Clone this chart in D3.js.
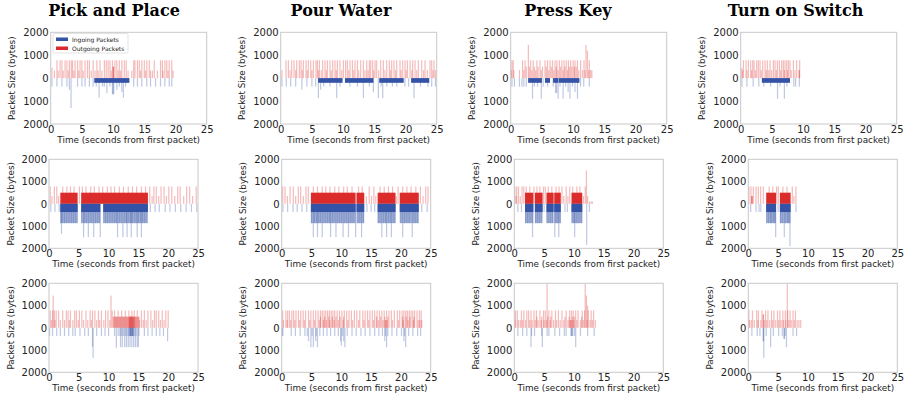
<!DOCTYPE html>
<html>
<head>
<meta charset="utf-8">
<script src="https://cdn.jsdelivr.net/npm/d3@7"></script>
<style>
  body { margin: 0; background: #fff; }
  svg { display: block; font-family: "DejaVu Sans", sans-serif; }
</style>
</head>
<body>
<svg id="chart" width="908" height="398"></svg>
<script>
// ---- data: [seconds, bytes] per packet ----
// bursts: [start, end, bytes of the solid block, bytes reached by the dense fringe]
// row A
const pickAOut = [[0.2,450],[0.6,330],[1.0,780],[1.2,330],[1.5,780],[1.8,780],[2.0,330],[2.3,780],[2.6,780],[2.8,330],[3.0,780],[3.3,780],[3.5,780],[3.7,330],[3.9,780],[4.3,780],[4.5,330],[4.7,780],[5.0,780],[5.2,330],[5.5,780],[5.9,780],[6.2,780],[6.5,330],[6.8,780],[7.1,330],[7.4,780],[7.6,330],[7.9,780],[8.2,330],[8.6,780],[8.9,780],[9.2,780],[9.5,780],[9.7,330],[9.9,780],[10.0,500],[10.05,500],[10.1,500],[10.3,780],[10.6,780],[10.8,330],[11.0,780],[11.2,330],[11.4,780],[11.8,780],[12.1,780],[12.4,330],[13.0,330],[13.3,780],[13.5,780],[13.9,780],[14.2,780],[14.4,330],[14.6,780],[15.0,780],[15.2,330],[15.4,780],[15.8,780],[16.0,330],[16.3,330],[16.6,780],[17.1,330],[17.6,780],[17.9,780],[18.0,330],[18.3,780],[18.6,780],[18.8,330],[19.0,780],[19.4,780],[19.6,330]];
const pickAIn = [[0.2,370],[1.0,370],[1.8,370],[2.6,370],[3.0,500],[3.26,1300],[4.3,370],[5.0,370],[5.5,370],[6.2,370],[6.8,370],[7.3,370],[7.75,850],[8.3,370],[8.6,370],[9.0,650],[9.5,370],[9.9,700],[10.0,700],[10.1,700],[10.6,500],[11.0,370],[11.4,600],[11.65,850],[12.0,370],[13.3,370],[13.9,370],[14.6,370],[15.4,370],[16.0,370],[16.8,370],[17.6,370],[18.3,370],[19.0,370],[19.4,370]];
const pickAOutBurst = [];
const pickAInBurst = [[7.0,12.6,200,200]];

const pourAOut = [[0.2,350],[0.85,780],[1.23,780],[1.5,350],[1.76,780],[2.14,780],[2.4,350],[2.56,780],[2.99,780],[3.26,780],[3.45,350],[3.63,780],[4.06,780],[4.25,350],[4.43,780],[4.81,780],[5.0,350],[5.24,780],[5.66,780],[5.88,780],[6.05,350],[6.2,780],[6.5,350],[6.73,780],[7.1,780],[7.3,350],[7.48,780],[7.9,780],[8.1,350],[8.33,780],[8.7,780],[8.9,350],[9.08,780],[9.5,780],[9.8,350],[10.04,780],[10.4,780],[10.68,780],[10.9,350],[11.11,780],[11.49,780],[11.7,350],[11.91,780],[12.29,780],[12.5,350],[12.82,780],[13.25,780],[13.5,350],[13.78,780],[14.0,350],[14.21,780],[14.42,780],[14.74,780],[14.9,350],[15.12,780],[15.38,780],[15.7,350],[16.03,780],[16.45,780],[16.7,350],[16.99,780],[17.41,780],[17.6,350],[17.79,780],[18.16,780],[18.4,350],[18.59,780],[19.12,780],[19.3,350],[19.55,780],[19.93,780],[20.1,350],[20.3,780],[20.73,780],[21.0,350],[21.15,780],[21.53,780],[21.8,350],[22.06,780],[22.6,780],[22.9,350],[23.13,780],[23.5,350],[23.93,780],[24.2,780],[24.4,350],[24.57,780],[24.8,350]];
const pourAIn = [[0.2,370],[0.9,370],[1.6,370],[2.4,370],[3.4,500],[4.2,370],[5.0,370],[5.6,370],[6.04,870],[6.4,500],[6.9,370],[7.9,370],[8.97,870],[9.5,370],[11.1,370],[12.3,370],[13.25,870],[14.2,370],[14.85,620],[15.65,870],[16.1,370],[16.35,870],[17.0,370],[17.9,370],[18.6,370],[19.9,370],[20.5,370],[21.37,870],[22.4,370],[23.6,370],[24.2,370],[24.8,370]];
const pourAOutBurst = [];
const pourAInBurst = [[6.0,9.9,200,200],[10.3,14.85,200,200],[15.8,19.7,200,200],[20.9,23.8,200,200]];

const pressAOut = [[0.1,350],[0.2,780],[0.4,780],[0.5,350],[1.4,350],[1.9,780],[2.1,350],[2.3,780],[2.5,500],[2.83,1450],[3.0,500],[3.2,780],[3.4,350],[3.6,780],[3.8,500],[4.0,350],[4.2,780],[4.4,500],[4.7,780],[4.9,350],[5.1,500],[5.5,780],[5.7,500],[5.9,780],[6.1,350],[6.3,780],[6.5,500],[6.7,780],[6.9,350],[7.1,780],[7.3,500],[7.4,780],[7.6,350],[7.8,780],[8.0,500],[8.2,780],[8.4,350],[8.55,780],[8.7,500],[8.9,780],[9.1,350],[9.25,780],[9.4,500],[9.6,780],[9.8,500],[10.0,780],[10.2,500],[10.3,780],[10.5,500],[10.7,780],[10.9,350],[11.2,780],[11.5,350],[11.75,780],[11.9,350],[12.07,1450],[12.3,1200],[12.5,350],[12.6,780],[12.8,350],[13.0,350]];
const pressAIn = [[0.2,370],[0.6,370],[1.4,370],[1.8,370],[2.1,370],[2.5,370],[3.5,900],[3.8,370],[4.3,370],[4.9,900],[5.2,370],[5.9,370],[6.8,370],[7.2,650],[7.35,650],[7.6,900],[7.9,370],[8.4,900],[8.8,370],[9.2,600],[9.5,900],[9.9,370],[10.3,600],[10.7,900],[11.2,370],[11.7,370],[12.6,370]];
const pressAOutBurst = [];
const pressAInBurst = [[2.8,5.0,200,200],[5.5,6.3,200,200],[6.8,7.6,200,200],[7.7,11.0,200,200]];

const switchAOut = [[0.16,450],[0.3,350],[0.43,780],[0.85,780],[1.0,350],[1.23,780],[1.6,780],[1.75,350],[1.92,780],[2.14,780],[2.35,350],[2.56,780],[2.83,780],[3.1,780],[3.3,350],[3.53,780],[3.9,780],[4.1,350],[4.27,780],[4.5,350],[4.7,780],[4.95,350],[5.24,780],[5.5,780],[5.7,350],[5.88,780],[6.2,780],[6.4,350],[6.57,780],[6.84,780],[7.0,350],[7.1,780],[7.37,780],[7.5,350],[7.64,780],[7.9,780],[8.1,350],[8.44,780],[8.7,350],[8.97,780],[9.35,350],[9.4,350],[9.45,780]];
const switchAIn = [[0.2,370],[1.0,370],[2.0,370],[2.9,370],[3.7,370],[4.8,370],[5.9,900],[6.3,370],[7.0,900],[7.4,370],[8.5,370],[8.8,370],[9.4,370]];
const switchAOutBurst = [];
const switchAInBurst = [[3.4,7.9,200,200]];

// row B
const pickBOut = [[0.2,780],[0.5,350],[0.9,780],[1.3,780],[1.6,350],[2.3,780],[3.0,780],[3.6,780],[4.2,780],[5.1,780],[5.6,780],[6.2,780],[7.0,780],[7.6,780],[8.4,780],[9.0,780],[9.8,780],[10.4,780],[11.0,780],[11.8,780],[12.5,780],[13.3,780],[14.0,780],[14.7,780],[15.5,780],[16.2,780],[16.9,780],[17.3,350],[17.6,780],[18.0,780],[18.4,350],[18.8,780],[19.3,780],[19.7,350],[20.1,780],[20.6,780],[21.1,350],[21.6,780],[22.0,780],[22.6,350],[23.1,780],[23.6,780],[24.1,350],[24.7,780]];
const pickBIn = [[0.3,370],[1.0,370],[1.7,370],[2.0,870],[2.1,1350],[2.3,870],[2.6,870],[2.9,870],[3.2,870],[3.5,870],[3.8,870],[4.1,870],[4.4,870],[4.7,870],[5.5,870],[5.8,1500],[6.0,870],[6.3,870],[6.6,1500],[6.9,870],[7.2,870],[7.5,1500],[7.8,870],[8.1,870],[8.4,870],[8.6,1500],[9.2,870],[9.5,870],[9.8,870],[10.1,870],[10.4,870],[10.7,870],[11.0,870],[11.3,870],[11.5,1500],[11.8,870],[12.1,870],[12.4,1500],[12.7,870],[13.0,870],[13.1,1500],[13.4,870],[13.7,870],[13.8,1500],[14.0,870],[14.3,870],[14.6,870],[14.8,1500],[15.0,870],[15.3,870],[15.5,1500],[15.7,870],[16.0,870],[16.3,870],[17.0,370],[17.8,370],[18.5,370],[19.5,370],[20.3,370],[21.2,370],[22.1,370],[23.0,370],[23.9,370],[24.8,370]];
const pickBOutBurst = [[1.9,4.8,500,500],[5.4,16.6,500,500]];
const pickBInBurst = [[1.9,4.8,370,870],[5.4,8.6,370,870],[9.1,16.6,370,870]];

const pourBOut = [[0.17,780],[0.56,780],[0.95,350],[1.4,780],[1.95,780],[2.34,350],[2.79,780],[3.18,780],[3.63,350],[4.07,780],[4.46,780],[5.3,780],[6.0,780],[6.8,780],[7.4,780],[8.1,780],[8.9,780],[9.6,780],[10.4,780],[11.0,780],[11.8,780],[12.9,780],[13.5,780],[14.2,350],[14.68,780],[15.07,350],[15.46,780],[15.79,350],[16.5,780],[17.2,780],[17.9,780],[18.6,780],[19.25,350],[19.53,780],[20.3,780],[21.0,780],[21.7,780],[22.5,780],[23.27,780],[23.72,350],[24.16,780],[24.55,780]];
const pourBIn = [[0.2,370],[1.0,370],[1.9,370],[2.6,370],[3.4,370],[4.2,370],[5.0,870],[5.3,1500],[5.5,870],[5.8,870],[6.0,1500],[6.2,870],[6.5,870],[6.8,1500],[7.1,870],[7.4,870],[7.7,870],[8.0,870],[8.2,1500],[8.5,870],[8.8,870],[9.1,1500],[9.4,870],[9.7,870],[10.0,870],[10.3,1500],[10.6,870],[10.9,870],[11.2,1500],[11.5,870],[11.8,870],[12.1,870],[12.4,1500],[12.8,870],[13.1,870],[13.4,1500],[13.7,870],[14.3,370],[15.0,370],[15.6,370],[16.2,870],[16.5,870],[16.8,1500],[17.1,870],[17.4,870],[17.6,1500],[17.9,870],[18.2,870],[18.4,1500],[18.7,870],[19.0,870],[20.0,870],[20.3,1500],[20.6,870],[20.9,870],[21.2,870],[21.5,870],[21.9,1500],[22.2,870],[22.5,870],[22.8,870],[23.5,370],[24.4,370]];
const pourBOutBurst = [[4.9,12.4,500,500],[12.55,13.85,500,500],[16.1,19.1,500,500],[19.8,23.0,500,500]];
const pourBInBurst = [[4.9,12.4,370,870],[12.55,13.85,370,870],[16.1,19.1,370,870],[19.8,23.0,370,870]];

const pressBOut = [[0.1,780],[0.3,350],[0.4,780],[0.7,780],[1.0,350],[1.3,780],[1.6,780],[2.0,780],[2.6,780],[3.3,780],[3.8,780],[4.3,780],[4.9,780],[5.2,780],[5.7,780],[6.3,780],[7.0,780],[7.5,780],[8.0,780],[8.3,350],[8.7,780],[9.0,350],[9.3,780],[9.8,780],[10.5,780],[11.0,780],[11.6,350],[11.9,780],[12.1,1500],[12.3,350],[12.6,100],[12.9,100],[13.1,100]];
const pressBIn = [[0.6,370],[1.2,370],[1.9,870],[2.2,870],[2.5,870],[2.8,870],[3.06,1500],[3.6,870],[3.9,870],[4.2,870],[4.5,870],[5.0,370],[5.5,870],[5.8,870],[6.1,870],[6.4,870],[6.8,1500],[7.0,870],[7.3,870],[7.46,1500],[7.7,870],[8.5,370],[8.9,370],[9.7,870],[10.0,870],[10.13,1500],[10.4,870],[10.7,870],[11.0,870],[11.3,870],[12.14,1850],[12.6,370]];
const pressBOutBurst = [[1.8,3.2,500,500],[3.45,4.75,500,500],[5.4,6.6,500,500],[6.7,7.8,500,500],[9.6,11.4,500,500]];
const pressBInBurst = [[1.8,3.2,370,870],[3.45,4.75,370,870],[5.4,6.6,370,870],[6.7,7.8,370,870],[9.6,11.4,370,870]];

const switchBOut = [[0.11,780],[0.45,780],[0.55,350],[0.6,350],[0.7,350],[0.84,780],[1.29,780],[1.68,780],[2.07,780],[2.52,780],[3.5,780],[4.1,780],[4.75,780],[5.03,780],[5.8,780],[6.5,780],[7.38,780],[7.66,350],[8.0,780]];
const switchBIn = [[0.4,370],[1.3,370],[1.8,370],[2.1,370],[3.1,870],[3.4,870],[3.7,870],[3.9,870],[4.2,870],[4.4,870],[4.59,1500],[5.0,370],[5.4,870],[5.7,870],[6.04,1500],[6.3,870],[6.6,870],[6.8,870],[6.99,1900],[8.0,370]];
const switchBOutBurst = [[3.0,4.65,500,500],[5.3,7.1,500,500]];
const switchBInBurst = [[3.0,4.65,370,870],[5.3,7.1,370,870]];

// row C
const pickCOut = [[0.2,780],[0.4,350],[0.6,780],[0.7,1450],[0.9,780],[1.0,350],[1.2,780],[1.6,780],[1.9,350],[2.3,780],[2.6,350],[2.9,780],[3.2,780],[3.4,350],[3.6,780],[4.0,350],[4.3,780],[4.6,780],[4.9,350],[5.1,780],[5.5,780],[5.8,350],[6.2,780],[6.5,350],[6.9,780],[7.1,350],[7.3,780],[7.7,780],[8.0,350],[8.3,780],[8.5,350],[8.8,780],[9.2,350],[9.5,780],[9.9,780],[10.2,350],[10.4,1450],[10.6,780],[10.8,500],[10.9,500],[11.0,780],[11.1,500],[11.2,500],[11.3,500],[11.4,500],[11.5,500],[11.6,780],[11.7,500],[11.8,500],[11.9,500],[12.0,500],[12.1,500],[12.2,780],[12.3,500],[12.4,500],[12.5,500],[12.6,500],[12.7,500],[12.8,780],[12.9,500],[13.0,500],[13.1,500],[13.2,500],[13.3,500],[13.4,780],[13.45,500],[13.5,500],[13.55,500],[13.6,500],[13.65,500],[13.7,500],[13.75,500],[13.8,500],[13.85,500],[13.9,780],[13.95,500],[14.0,500],[14.05,500],[14.1,500],[14.15,500],[14.2,500],[14.3,780],[14.35,500],[14.4,500],[14.5,500],[14.6,500],[14.7,500],[14.8,780],[14.9,500],[15.0,500],[15.1,500],[15.2,350],[15.5,780],[15.8,350],[16.0,780],[16.3,350],[16.6,780],[17.1,780],[17.4,350],[17.7,780],[18.0,780],[18.4,780],[18.7,350],[19.0,780],[19.3,350],[19.6,780],[20.0,780]];
const pickCIn = [[0.1,370],[0.6,370],[1.3,370],[1.9,370],[2.6,370],[3.3,370],[4.0,370],[4.4,370],[5.2,370],[6.0,370],[6.6,370],[7.3,850],[7.4,1350],[8.0,370],[8.8,370],[9.4,370],[10.0,370],[11.0,370],[11.3,900],[11.6,370],[11.9,370],[12.0,870],[12.2,370],[12.3,870],[12.5,370],[12.7,870],[12.8,370],[13.0,870],[13.1,370],[13.3,870],[13.4,370],[13.5,370],[13.6,870],[13.65,370],[13.7,370],[13.75,370],[13.8,370],[13.9,870],[13.95,370],[14.0,370],[14.05,370],[14.1,370],[14.2,870],[14.3,370],[14.5,870],[14.6,370],[14.8,870],[15.0,870],[15.1,370],[16.0,370],[16.6,370],[17.3,370],[18.0,370],[18.6,370],[19.2,370],[19.9,600]];
const pickCOutBurst = [];
const pickCInBurst = [];

const pourCOut = [[0.17,780],[0.7,780],[1.0,780],[1.3,780],[1.7,780],[2.0,780],[2.4,780],[2.8,780],[3.2,780],[3.6,780],[4.0,780],[4.5,780],[4.9,780],[5.3,780],[5.7,780],[6.1,780],[6.5,780],[6.8,780],[7.1,780],[7.4,780],[7.7,780],[8.0,780],[8.3,780],[8.6,780],[8.9,780],[9.3,780],[9.7,780],[10.1,780],[10.5,780],[10.9,780],[11.3,780],[11.7,780],[12.2,780],[12.6,780],[13.1,780],[13.6,780],[14.0,780],[14.4,780],[14.8,780],[15.2,780],[15.6,780],[16.0,780],[16.4,780],[16.8,780],[17.2,780],[17.6,780],[18.0,780],[18.4,780],[18.9,780],[19.4,780],[19.8,780],[20.2,780],[20.5,780],[20.8,780],[21.1,780],[21.4,780],[21.7,780],[22.0,780],[22.3,780],[22.7,780],[23.1,780],[23.4,780],
  [0.3,350],[0.9,350],[1.5,350],[2.2,350],[3.0,350],[3.8,350],[4.7,350],[5.5,350],[6.3,350],[7.0,350],[7.5,350],[8.1,350],[8.8,350],[9.5,350],[10.3,350],[11.1,350],[11.9,350],[12.9,350],[13.8,350],[14.6,350],[15.4,350],[16.2,350],[17.0,350],[17.4,350],[17.5,350],[17.7,350],[18.6,350],[19.6,350],[20.4,350],[21.2,350],[22.1,350],[22.9,350],[23.2,350],[23.5,350],
  [6.5,500],[7.2,500],[7.9,500],[8.5,500],[9.1,500],[9.8,500],[10.4,500],[15.9,500],[16.6,500],[17.3,500],[17.8,500],[20.3,500],[20.9,500],[21.5,500],[22.2,500]];
const pourCIn = [[0.1,370],[0.2,370],[1.6,370],[2.3,370],[3.1,370],[3.9,370],[4.3,370],[4.5,600],[4.9,870],[5.1,370],[5.3,870],[5.7,600],[5.8,370],[6.0,870],[6.4,370],[7.0,370],[7.6,370],[8.2,370],[8.9,370],[9.5,370],[9.9,600],[10.0,800],[10.2,370],[10.4,600],[10.6,870],[11.0,370],[11.8,370],[12.5,370],[13.3,370],[14.0,370],[14.8,370],[15.6,370],[16.3,370],[16.9,370],[17.3,600],[17.4,370],[17.6,870],[17.8,370],[18.5,370],[19.3,370],[20.1,370],[20.5,600],[20.6,370],[20.8,870],[21.3,370],[22.0,370],[22.8,370],[23.3,370]];
const pourCOutBurst = [];
const pourCInBurst = [];

const pressCOut = [[0.2,780],[0.5,780],[1.2,780],[1.6,780],[2.1,780],[2.4,780],[2.8,780],[3.3,780],[3.7,780],[4.3,780],[4.9,780],[5.2,780],[5.5,2000],[5.8,780],[6.3,780],[6.9,780],[7.4,780],[8.0,780],[8.7,780],[9.3,780],[9.6,780],[9.9,780],[10.3,780],[10.7,780],[11.4,780],[11.8,780],[11.9,2000],[12.1,1450],[12.3,1000],[12.4,780],[12.9,780],[13.3,780],
  [0.1,350],[0.7,350],[1.0,350],[1.4,350],[1.9,350],[2.6,350],[3.0,350],[3.5,350],[4.0,350],[4.5,350],[5.0,350],[5.4,350],[6.0,350],[6.6,350],[7.1,350],[7.7,350],[8.3,350],[9.0,350],[9.4,350],[9.5,350],[9.7,350],[10.0,350],[10.5,350],[11.1,350],[11.6,350],[12.2,350],[12.7,350],[13.1,350],[13.6,350],
  [3.8,500],[4.6,500],[5.6,500],[6.1,500],[8.5,500],[9.2,500],[9.8,500],[10.1,500],[11.3,500]];
const pressCIn = [[0.6,370],[1.4,370],[2.1,370],[2.8,870],[2.9,370],[3.4,370],[4.6,370],[4.7,870],[5.5,370],[5.8,370],[6.8,370],[7.6,370],[8.4,370],[8.7,370],[9.5,370],[9.6,370],[9.7,370],[9.8,370],[10.1,370],[10.3,870],[11.1,370],[12.3,370],[13.4,370]];
const pressCOutBurst = [];
const pressCInBurst = [];

const switchCOut = [[0.1,780],[0.7,780],[1.4,780],[1.7,780],[2.3,780],[2.9,780],[3.3,780],[3.9,780],[4.3,780],[4.9,780],[5.3,780],[5.8,780],[6.2,780],[6.54,2000],[6.6,780],[7.0,780],[7.5,780],[7.9,780],
  [0.2,350],[0.5,350],[1.0,350],[1.6,350],[2.1,350],[2.5,600],[2.55,600],[2.7,350],[3.1,350],[3.6,350],[4.1,350],[4.6,350],[5.1,350],[5.5,350],[5.9,350],[6.3,350],[6.8,350],[7.2,350],[7.7,350],[8.2,350],[8.5,350],[8.8,350]];
const switchCIn = [[0.6,370],[1.5,370],[1.95,370],[2.5,600],[2.55,600],[2.6,1350],[3.0,370],[3.75,870],[4.2,370],[5.1,370],[5.7,370],[6.0,500],[6.05,500],[6.2,370],[6.4,870],[7.5,370],[8.1,370]];
const switchCOutBurst = [];
const switchCInBurst = [];

const titles = ["Pick and Place", "Pour Water", "Press Key", "Turn on Switch"];
const xTicks = [0, 5, 10, 15, 20, 25];
const yTicks = [-2000, -1000, 0, 1000, 2000];
const legendLabels = ["Ingoing Packets", "Outgoing Packets"];

// ---- layout ----
const rowTop = [32.3, 159.3, 283.3];
const rowHeight = [91.7, 89, 89];
const colLeft = [[50.7, 280.7, 510.7, 740.7], [49, 281.7, 514.3, 748.3], [49, 281.7, 514.3, 748.3]];
const colWidth = [156, 149, 149];
const titleX = [114, 341, 568, 795.5];

const RED = "#dc2b2b";
const BLUE = "#3553a6";
const barW = 1.2;

const panels = [
  { row: 0, col: 0, out: pickAOut, inc: pickAIn, outBurst: pickAOutBurst, inBurst: pickAInBurst },
  { row: 0, col: 1, out: pourAOut, inc: pourAIn, outBurst: pourAOutBurst, inBurst: pourAInBurst },
  { row: 0, col: 2, out: pressAOut, inc: pressAIn, outBurst: pressAOutBurst, inBurst: pressAInBurst },
  { row: 0, col: 3, out: switchAOut, inc: switchAIn, outBurst: switchAOutBurst, inBurst: switchAInBurst },
  { row: 1, col: 0, out: pickBOut, inc: pickBIn, outBurst: pickBOutBurst, inBurst: pickBInBurst },
  { row: 1, col: 1, out: pourBOut, inc: pourBIn, outBurst: pourBOutBurst, inBurst: pourBInBurst },
  { row: 1, col: 2, out: pressBOut, inc: pressBIn, outBurst: pressBOutBurst, inBurst: pressBInBurst },
  { row: 1, col: 3, out: switchBOut, inc: switchBIn, outBurst: switchBOutBurst, inBurst: switchBInBurst },
  { row: 2, col: 0, out: pickCOut, inc: pickCIn, outBurst: pickCOutBurst, inBurst: pickCInBurst },
  { row: 2, col: 1, out: pourCOut, inc: pourCIn, outBurst: pourCOutBurst, inBurst: pourCInBurst },
  { row: 2, col: 2, out: pressCOut, inc: pressCIn, outBurst: pressCOutBurst, inBurst: pressCInBurst },
  { row: 2, col: 3, out: switchCOut, inc: switchCIn, outBurst: switchCOutBurst, inBurst: switchCInBurst }
];

const svg = d3.select("#chart");

// column titles
svg.selectAll(".title")
  .data(titles)
  .join("text")
  .attr("class", "title")
  .attr("x", (d, i) => titleX[i])
  .attr("y", 15.5)
  .attr("text-anchor", "middle")
  .attr("font-family", "'DejaVu Serif', serif")
  .attr("font-weight", "bold")
  .attr("font-size", 16)
  .attr("fill", "#000")
  .text(d => d);

panels.forEach(p => {
  const left = colLeft[p.row][p.col];
  const w = colWidth[p.row];
  const top = rowTop[p.row];
  const h = rowHeight[p.row];

  const x = d3.scaleLinear().domain([0, 25]).range([left, left + w]);
  const y = d3.scaleLinear().domain([-2000, 2000]).range([top + h, top]);

  const g = svg.append("g");

  // fringe under the incoming bursts (many overlapping packets)
  g.selectAll(null).data(p.inBurst).join("rect")
    .attr("x", d => x(d[0]))
    .attr("width", d => x(d[1]) - x(d[0]))
    .attr("y", y(0))
    .attr("height", d => y(-d[3]) - y(0))
    .attr("fill", BLUE)
    .attr("fill-opacity", 0.42);

  // single packets, drawn faint so overlaps darken
  g.selectAll(null).data(p.out).join("rect")
    .attr("x", d => x(d[0]) - barW / 2)
    .attr("width", barW)
    .attr("y", d => y(d[1]))
    .attr("height", d => y(0) - y(d[1]))
    .attr("fill", RED)
    .attr("fill-opacity", 0.32);

  g.selectAll(null).data(p.inc).join("rect")
    .attr("x", d => x(d[0]) - barW / 2)
    .attr("width", barW)
    .attr("y", y(0))
    .attr("height", d => y(-d[1]) - y(0))
    .attr("fill", BLUE)
    .attr("fill-opacity", 0.32);

  // dense bursts
  g.selectAll(null).data(p.outBurst).join("rect")
    .attr("x", d => x(d[0]))
    .attr("width", d => x(d[1]) - x(d[0]))
    .attr("y", d => y(d[2]))
    .attr("height", d => y(0) - y(d[2]))
    .attr("fill", RED);

  g.selectAll(null).data(p.inBurst).join("rect")
    .attr("x", d => x(d[0]))
    .attr("width", d => x(d[1]) - x(d[0]))
    .attr("y", y(0))
    .attr("height", d => y(-d[2]) - y(0))
    .attr("fill", BLUE);

  // frame
  g.append("rect")
    .attr("x", left).attr("y", top)
    .attr("width", w).attr("height", h)
    .attr("fill", "none")
    .attr("stroke", "#c8c8c8")
    .attr("stroke-width", 1);

  // axes
  const yAxis = g.append("g")
    .attr("transform", `translate(${left},0)`)
    .call(d3.axisLeft(y).tickValues(yTicks).tickFormat(d => Math.abs(d)).tickSize(0).tickPadding(2));
  yAxis.select(".domain").remove();
  yAxis.selectAll("text").attr("font-size", 10).attr("font-family", "'DejaVu Sans', sans-serif").attr("fill", "#222");

  const xAxis = g.append("g")
    .attr("transform", `translate(0,${top + h})`)
    .call(d3.axisBottom(x).tickValues(xTicks).tickFormat(d3.format("d")).tickSize(0).tickPadding(1.5));
  xAxis.select(".domain").remove();
  xAxis.selectAll("text").attr("font-size", 10).attr("font-family", "'DejaVu Sans', sans-serif").attr("fill", "#222");

  g.append("text")
    .attr("x", left + w / 2)
    .attr("y", top + h + 19)
    .attr("text-anchor", "middle")
    .attr("font-size", 8.8)
    .attr("fill", "#222")
    .text("Time (seconds from first packet)");

  g.append("text")
    .attr("transform", `translate(${left - 38.5},${top + h / 2}) rotate(-90)`)
    .attr("text-anchor", "middle")
    .attr("dy", "0.35em")
    .attr("font-size", 8.8)
    .attr("fill", "#222")
    .text("Packet Size (bytes)");
});

// legend in the first panel
const lg = svg.append("g").attr("transform", "translate(53,33.5)");
lg.append("rect")
  .attr("width", 75).attr("height", 19.5)
  .attr("rx", 1.5)
  .attr("fill", "#fff").attr("fill-opacity", 0.85)
  .attr("stroke", "#d0d0d0").attr("stroke-width", 0.6);
lg.selectAll(".lk")
  .data(legendLabels)
  .join("rect")
  .attr("class", "lk")
  .attr("x", 3).attr("y", (d, i) => 4 + i * 9)
  .attr("width", 12).attr("height", 3.5)
  .attr("fill", (d, i) => i === 0 ? BLUE : RED);
lg.selectAll(".lt")
  .data(legendLabels)
  .join("text")
  .attr("class", "lt")
  .attr("x", 19).attr("y", (d, i) => 8 + i * 9)
  .attr("font-size", 6)
  .attr("fill", "#222")
  .text(d => d);
</script>
</body>
</html>
